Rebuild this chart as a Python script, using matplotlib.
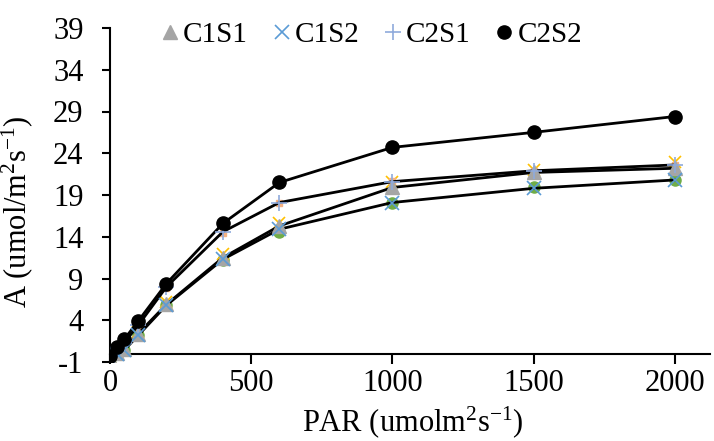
import matplotlib
matplotlib.use("Agg")
import matplotlib.pyplot as plt

plt.rcParams['font.family'] = ['Liberation Serif', 'DejaVu Serif']
plt.rcParams['mathtext.fontset'] = 'custom'
plt.rcParams['mathtext.rm'] = 'Liberation Serif'
plt.rcParams['mathtext.it'] = 'Liberation Serif:italic'
plt.rcParams['axes.unicode_minus'] = False

# PAR levels and photosynthesis rates
par = [0, 25, 50, 100, 200, 400, 600, 1000, 1500, 2000]
c1s1 = [-0.5, 0.1, 0.5, 2.4, 5.9, 11.5, 15.3, 19.9, 21.7, 22.2]
c1s2 = [-0.6, -0.1, 0.4, 2.2, 5.8, 11.3, 14.9, 18.1, 19.8, 20.8]
c2s1 = [-0.4, 0.5, 1.3, 3.4, 8.0, 14.6, 18.1, 20.6, 21.9, 22.6]
c2s2 = [-0.3, 0.8, 1.7, 3.9, 8.4, 15.6, 20.5, 24.7, 26.5, 28.4]

# extra marker series peeking out behind (not in legend)
extra_green = [-0.6, -0.1, 0.4, 2.2, 5.8, 11.2, 14.6, 18.1, 19.9, 20.75]
extra_orange = [-0.4, 0.2, 0.7, 2.6, 6.2, 11.9, 15.7, 20.6, 22.0, 23.0]
extra_salmon = [-0.4, 0.5, 1.3, 3.3, 7.9, 14.5, 18.0, 20.7, 21.9, 22.6]

yticks = [-1, 4, 9, 14, 19, 24, 29, 34, 39]
xticks = [0, 500, 1000, 1500, 2000]

fig = plt.figure(figsize=(7.14, 4.41), dpi=100)
ax = fig.add_axes([110 / 714, 79 / 441, 600 / 714, 334 / 441])

ax.plot(par, extra_green, 'o', color='#70AD47', ms=8, zorder=2)
ax.plot(par, extra_orange, 'x', color='#FFC000', ms=9, mew=1.2, zorder=2)
ax.plot(par, extra_salmon, 's', color='#F4B183', ms=4, zorder=2)

ax.plot(par, c1s1, color='black', lw=2, zorder=3)
ax.plot(par, c1s2, color='black', lw=2, zorder=3)
ax.plot(par, c2s1, color='black', lw=2, zorder=3)
ax.plot(par, c2s2, color='black', lw=2, zorder=3)

ax.plot(par, c1s1, '^', color='#A5A5A5', ms=10, ls='none', zorder=4, label='C1S1')
ax.plot(par, c1s2, 'x', color='#5B9BD5', ms=10, mew=1.2, ls='none', zorder=5, label='C1S2')
ax.plot(par, c2s1, '+', color='#8FAADC', ms=12, mew=1.2, ls='none', zorder=6, label='C2S1')
ax.plot(par, c2s2, 'o', color='black', ms=9.5, ls='none', zorder=7, label='C2S2')

ax.set_xlim(0, 2125)
ax.set_ylim(-1, 39)
ax.set_xticks(xticks)
ax.set_yticks(yticks)

ax.spines['top'].set_visible(False)
ax.spines['right'].set_visible(False)
ax.spines['bottom'].set_position(('data', 0))
ax.spines['left'].set_linewidth(1.5)
ax.spines['bottom'].set_linewidth(1.5)

ax.tick_params(axis='y', direction='out', length=6, width=1.5, pad=13, labelsize=22)
ax.tick_params(axis='x', direction='out', length=7, width=1.5, pad=4, labelsize=22)

ax.set_xlabel(r'PAR (umolm$^{2}$s$^{-1}$)', fontsize=22)
ax.set_ylabel(r'A (umol/m$^{2}$s$^{-1}$)', fontsize=22)
ax.xaxis.set_label_coords(0.505, -0.125)
ax.yaxis.set_label_coords(-0.125, 0.45)

ax.legend(loc='upper center', bbox_to_anchor=(0.435, 1.055), ncol=4, frameon=False,
          fontsize=21, handlelength=0.7, handletextpad=0.1, columnspacing=0.8,
          borderaxespad=0)

fig.savefig('out.png', dpi=100)
